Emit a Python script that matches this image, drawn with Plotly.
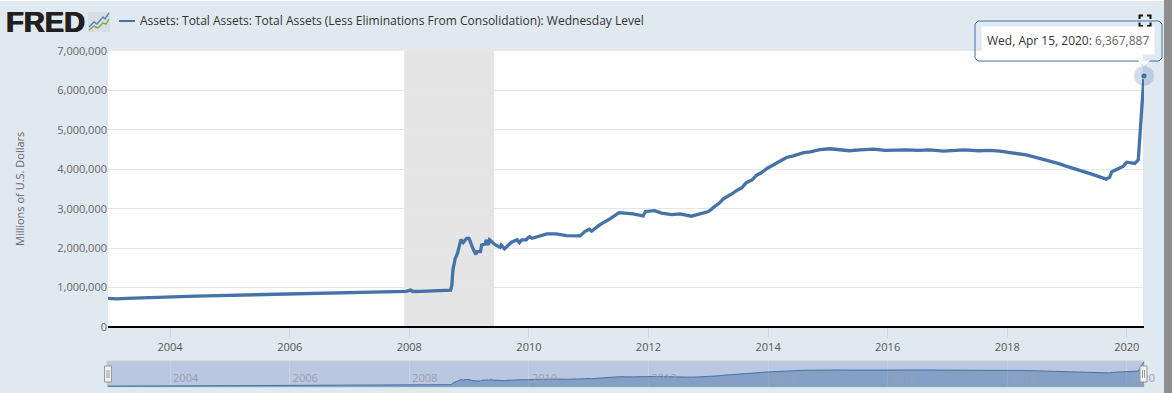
import plotly.graph_objects as go

dates = """2002-12-18 2003-02-12 2003-04-09 2003-06-11 2003-08-13 2003-10-08 2003-12-10
2004-02-11 2004-04-14 2004-06-09 2004-08-11 2004-10-13 2004-12-08
2005-02-09 2005-04-13 2005-06-08 2005-08-10 2005-10-12 2005-12-14
2006-02-08 2006-04-12 2006-06-07 2006-08-09 2006-10-11 2006-12-13
2007-02-14 2007-04-11 2007-06-13 2007-08-15 2007-09-12 2007-10-10 2007-12-12
2008-01-09 2008-01-23 2008-03-12 2008-05-14 2008-07-09 2008-08-27 2008-09-10 2008-09-17 2008-09-24
2008-10-08 2008-10-22 2008-11-12 2008-11-26 2008-12-17 2008-12-31
2009-01-28 2009-02-11 2009-02-18 2009-03-11 2009-03-18 2009-04-08 2009-04-15 2009-04-29 2009-05-06 2009-05-27
2009-06-10 2009-07-08 2009-07-15 2009-08-05 2009-08-26 2009-09-16 2009-10-21 2009-11-04 2009-11-18 2009-12-16 2009-12-23
2010-01-06 2010-01-20 2010-03-10 2010-04-21 2010-06-16 2010-08-18 2010-11-10 2010-12-08
2011-01-05 2011-01-19 2011-03-09 2011-05-11 2011-07-06 2011-09-28 2011-11-30 2011-12-14
2012-02-08 2012-03-21 2012-05-23 2012-07-11 2012-09-19 2012-11-07
2013-01-02 2013-02-13 2013-03-06 2013-04-03 2013-05-01 2013-05-29 2013-06-26 2013-07-24 2013-08-21 2013-09-25 2013-10-23 2013-11-20 2013-12-25
2014-02-05 2014-03-12 2014-04-23 2014-06-04 2014-08-06 2014-09-17 2014-11-12
2015-01-14 2015-03-11 2015-05-13 2015-07-15 2015-10-07 2015-12-16
2016-02-24 2016-04-27 2016-07-06 2016-09-14 2016-12-07
2017-02-08 2017-04-12 2017-07-12 2017-09-20 2017-11-15
2018-02-28 2018-04-18 2018-06-06 2018-08-01 2018-09-19 2018-11-07 2018-12-26
2019-02-13 2019-04-10 2019-06-05 2019-08-28 2019-09-18 2019-10-02 2019-11-06 2019-12-11
2020-01-01 2020-02-19 2020-03-11 2020-03-18 2020-03-25 2020-04-01 2020-04-08 2020-04-15""".split()

total_assets = [
 727000, 715000, 728000, 738000, 745000, 752000, 772000,
 775000, 785000, 782000, 790000, 795000, 812000,
 815000, 818000, 830000, 826000, 838000, 845000,
 852000, 850000, 858000, 855000, 862000, 875000,
 868000, 876000, 880000, 895000, 885000, 890000, 905000,
 935000, 900000, 905000, 912000, 918000, 920000, 935000, 1050000, 1450000,
 1740000, 1870000, 2220000, 2140000, 2250000, 2250000,
 1950000, 1840000, 1910000, 1910000, 2080000, 2100000, 2210000, 2080000, 2210000, 2120000,
 2080000, 2020000, 2080000, 1980000, 2080000, 2150000, 2210000, 2140000, 2210000, 2210000, 2250000,
 2290000, 2250000, 2310000, 2360000, 2360000, 2320000, 2310000, 2420000,
 2480000, 2430000, 2590000, 2740000, 2900000, 2870000, 2820000, 2930000,
 2950000, 2890000, 2850000, 2870000, 2810000, 2870000,
 2930000, 3070000, 3130000, 3250000, 3310000, 3390000, 3470000, 3530000, 3660000, 3730000, 3850000, 3910000, 4020000,
 4120000, 4190000, 4300000, 4340000, 4420000, 4440000, 4500000,
 4520000, 4490000, 4470000, 4490000, 4510000, 4480000,
 4490000, 4490000, 4480000, 4490000, 4460000,
 4470000, 4490000, 4470000, 4480000, 4460000,
 4410000, 4370000, 4320000, 4260000, 4200000, 4150000, 4080000,
 4020000, 3940000, 3870000, 3750000, 3800000, 3940000, 4000000, 4080000,
 4180000, 4150000, 4240000, 4670000, 5250000, 5800000, 6080000, 6367887]

y_ticks = [0, 1000000, 2000000, 3000000, 4000000, 5000000, 6000000, 7000000]
recession = ["2007-12-01", "2009-06-01"]
series_name = "Assets: Total Assets: Total Assets (Less Eliminations From Consolidation): Wednesday Level"
y_title = "Millions of U.S. Dollars"
tooltip_date = "Wed, Apr 15, 2020:"
tooltip_value = "6,367,887"

W, H = 1172, 393
BG = "#e1e9f0"
BLUE = "#4572a7"
FONT = "Open Sans"
def X(p): return p / W
def Y(p): return 1 - p / H

def rect(x0, y0, x1, y1, fill, line=None, lw=0, layer="above"):
    return dict(type="rect", xref="paper", yref="paper", x0=X(x0), x1=X(x1), y0=Y(y0), y1=Y(y1),
                fillcolor=fill, line=dict(color=line or fill, width=lw), layer=layer)

def poly(pts, color, lw=1, fill=None, close=False):
    d = "M" + " L".join(f"{X(a):.5f},{Y(b):.5f}" for a, b in pts) + (" Z" if close else "")
    return dict(type="path", xref="paper", yref="paper", path=d, line=dict(color=color, width=lw),
                fillcolor=fill or "rgba(0,0,0,0)", layer="above")

fig = go.Figure()
fig.add_trace(go.Scatter(x=dates, y=total_assets, mode="lines", name=series_name,
                         line=dict(color=BLUE, width=3.3), xaxis="x", yaxis="y",
                         hoverinfo="skip", cliponaxis=False, showlegend=False))
fig.add_trace(go.Scatter(x=dates[-1:], y=total_assets[-1:], mode="markers", xaxis="x", yaxis="y",
                         marker=dict(size=20, color="rgba(69,114,167,0.25)"), hoverinfo="skip",
                         cliponaxis=False, showlegend=False))
fig.add_trace(go.Scatter(x=dates[-1:], y=total_assets[-1:], mode="markers", xaxis="x", yaxis="y",
                         marker=dict(size=6, color=BLUE, line=dict(color="#ffffff", width=0.5)),
                         hoverinfo="skip", cliponaxis=False, showlegend=False))
fig.add_trace(go.Scatter(x=dates, y=total_assets, mode="lines", fill="tozeroy",
                         fillcolor="rgba(69,114,167,0.45)", line=dict(color=BLUE, width=1),
                         xaxis="x2", yaxis="y2", hoverinfo="skip", showlegend=False))

shapes = [
    rect(0, 0, W, 1, "#ffffff"),
    rect(1164, 0, W, H, "#8e8e8e"),
    rect(107, 361, 1144, 387, "#b9c7e1", "#cccccc", 1, layer="below"),
    dict(type="rect", xref="x", yref="y domain", x0=recession[0], x1=recession[1], y0=0, y1=1,
         fillcolor="#e5e5e5", line_width=0, layer="below"),
    dict(type="line", xref="x", yref="y domain", x0=dates[-1], x1=dates[-1], y0=0, y1=1,
         line=dict(color="#cccccc", width=1), layer="below"),
    # legend sample
    poly([(119, 21), (135, 21)], BLUE, 2),
    # tooltip outline with pointer
    poly([(978, 21), (1159, 21), (1162, 24), (1162, 58), (1159, 61), (1150, 61), (1144, 67), (1138, 61),
          (978, 61), (975, 58), (975, 24)], BLUE, 1, close=True),
    poly([(1138, 61.5), (1144, 67), (1150, 61.5)], "rgba(255,255,255,0)", 0, fill="#ffffff", close=True),
    # logo icon
    rect(88, 12, 110, 32, "#d9dee2", "#d9dee2", 0),
    poly([(89, 27), (94, 22), (97, 24), (103, 17), (105, 19), (109, 13)], "#4f86bd", 1.4),
    poly([(89, 30), (94, 26), (98, 28), (103, 23), (106, 24), (109, 19)], "#7aa64a", 1.4),
    # full-screen icon
    poly([(1139.5, 19), (1139.5, 15.5), (1143, 15.5)], "#111111", 2),
    poly([(1147, 15.5), (1150.5, 15.5), (1150.5, 19)], "#111111", 2),
    poly([(1139.5, 22.5), (1139.5, 26), (1143, 26)], "#111111", 2),
    poly([(1147, 26), (1150.5, 26), (1150.5, 22.5)], "#111111", 2),
]
# navigator handles
for cx in (108, 1143.5):
    shapes.append(rect(cx - 3.5, 366, cx + 3.5, 382, "#f2f2f2", "#999999", 1))
    shapes.append(poly([(cx - 1, 370), (cx - 1, 378)], "#999999", 1))
    shapes.append(poly([(cx + 1, 370), (cx + 1, 378)], "#999999", 1))

annotations = [
    dict(text="FRED", x=X(4), y=Y(22), xref="paper", yref="paper", xanchor="left", yanchor="middle",
         showarrow=False, font=dict(family="Liberation Sans", size=29, color="#231f20", weight="bold",
                                    shadow="0.7px 0 0 #231f20, -0.5px 0 0 #231f20")),
    dict(text=series_name, x=X(137.5), y=Y(21), xref="paper", yref="paper", xanchor="left", yanchor="middle",
         showarrow=False, font=dict(family=FONT, size=12, color="#333333")),
    dict(text=f"<span style='color:#333333'>{tooltip_date}</span> <span style='color:#666666'>{tooltip_value}</span>",
         x=X(1068), y=Y(40.5), xref="paper", yref="paper", xanchor="center", yanchor="middle",
         showarrow=False, bgcolor="#ffffff", borderpad=5, font=dict(family=FONT, size=12)),
    dict(text=y_title, x=X(19), y=Y(189), xref="paper", yref="paper", xanchor="center", yanchor="middle",
         textangle=-90, showarrow=False, font=dict(family=FONT, size=11, color="#666666")),
]

fig.update_layout(
    width=W, height=H, margin=dict(l=0, r=0, t=0, b=0, autoexpand=False), autosize=False,
    paper_bgcolor=BG, plot_bgcolor="#ffffff", showlegend=False,
    font=dict(family=FONT, size=11, color="#666666"),
    shapes=shapes, annotations=annotations,
    xaxis=dict(domain=[X(108), X(1144)], range=["2002-12-18", "2020-04-15"], type="date",
               tick0="2004-01-01", dtick="M24", tickformat="%Y", ticks="outside", ticklen=10,
               tickcolor="#ccd6eb", tickwidth=1, showgrid=False, zeroline=False, showline=False,
               automargin=False, anchor="y", tickfont=dict(size=11, color="#555555")),
    yaxis=dict(domain=[Y(327), Y(51)], range=[0, 7000000], tickvals=y_ticks, tickformat=",d",
               gridcolor="#e6e6e6", gridwidth=1, zeroline=True, zerolinecolor="#000000", zerolinewidth=2,
               showline=False, ticks="", anchor="x", automargin=False, tickfont=dict(size=11, color="#666666")),
    xaxis2=dict(domain=[X(108), X(1144)], range=["2002-12-18", "2020-04-15"], type="date",
                tick0="2004-01-01", dtick="M24", tickformat="%Y", anchor="y2",
                ticklabelposition="inside right", ticklabeloverflow="allow", ticks="",
                ticklabelshift=3, ticklabelstandoff=-3,
                showgrid=True, gridcolor="#c6d1e6", gridwidth=1, zeroline=False, showline=False,
                automargin=False, tickfont=dict(size=11, color="#99a0ad"), layer="above traces"),
    yaxis2=dict(domain=[Y(387), Y(361)], range=[500000, 6600000], anchor="x2", showgrid=False,
                automargin=False, zeroline=False, showticklabels=False, ticks=""),
)

assert len(dates) == len(total_assets)
fig.write_html("out.html", config=dict(displayModeBar=False),
               post_script="document.body.style.margin='0';document.body.style.overflow='hidden';")
